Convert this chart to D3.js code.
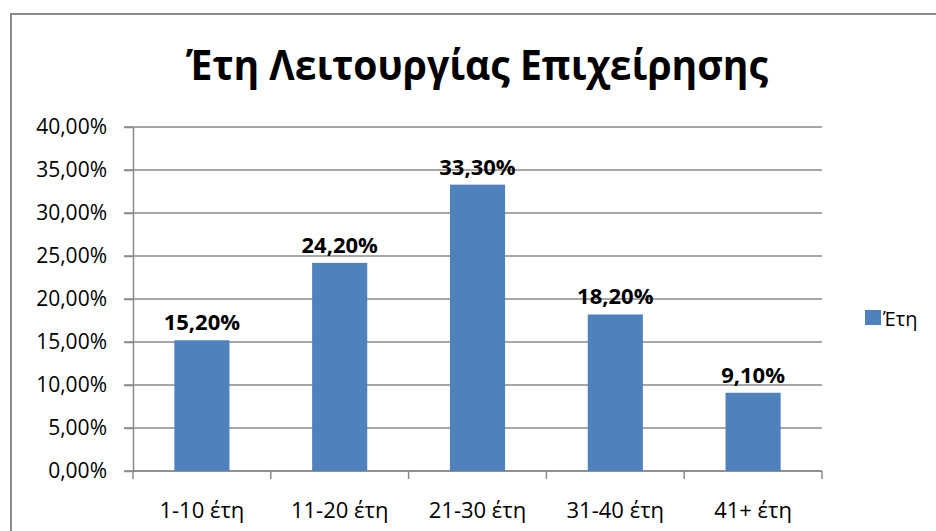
<!DOCTYPE html>
<html>
<head>
<meta charset="utf-8">
<script src="https://cdn.jsdelivr.net/npm/d3@7"></script>
<style>
  body { margin: 0; background: #fff; }
  svg { display: block; }
  text { font-family: "Open Sans", "Liberation Sans", sans-serif; fill: #000; }
</style>
</head>
<body>
<svg id="chart" width="936" height="531"></svg>
<script>
// Years of business operation, share of firms per bracket
const categories = ["1-10 έτη", "11-20 έτη", "21-30 έτη", "31-40 έτη", "41+ έτη"];
const values = [15.2, 24.2, 33.3, 18.2, 9.1];
const yTicks = [0, 5, 10, 15, 20, 25, 30, 35, 40];
const seriesName = "Έτη";
const title = "Έτη Λειτουργίας Επιχείρησης";

const svg = d3.select("#chart");
const fmt = v => v.toFixed(2).replace(".", ",") + "%";
const axisColor = "#8a8a8a";

// Chart frame
svg.append("rect")
  .attr("x", 11).attr("y", 14)
  .attr("width", 1000).attr("height", 600)
  .attr("fill", "#fff").attr("stroke", "#8c8c8c").attr("stroke-width", 2);

const plot = { left: 133, right: 822, top: 127, bottom: 471 };

const x = d3.scaleBand().domain(categories)
  .range([plot.left, plot.right]).paddingInner(0.6).paddingOuter(0.3);
const y = d3.scaleLinear().domain([0, 40]).range([plot.bottom, plot.top]);

// Title
svg.append("text")
  .attr("x", 477).attr("y", 80)
  .attr("text-anchor", "middle")
  .attr("font-size", 42).attr("font-weight", "bold")
  .attr("textLength", 582).attr("lengthAdjust", "spacingAndGlyphs")
  .text(title);

// Horizontal gridlines
svg.append("g").selectAll("line").data(yTicks).join("line")
  .attr("x1", plot.left - 9).attr("x2", plot.right)
  .attr("y1", d => y(d)).attr("y2", d => y(d))
  .attr("stroke", axisColor).attr("stroke-width", 1.5);

// Y axis
const yAxis = svg.append("g")
  .attr("transform", `translate(${plot.left},0)`)
  .call(d3.axisLeft(y).tickValues(yTicks).tickFormat(fmt).tickSize(9).tickSizeOuter(0));
yAxis.select(".domain").attr("stroke", axisColor).attr("stroke-width", 1.5);
yAxis.selectAll(".tick line").attr("stroke", axisColor).attr("stroke-width", 1.5);
yAxis.selectAll(".tick text")
  .attr("x", -26).attr("font-size", 21)
  .attr("font-family", "'Open Sans', 'Liberation Sans', sans-serif")
  .attr("fill", "#000");

// X axis with ticks at category boundaries
const boundaries = d3.range(categories.length + 1)
  .map(i => plot.left + i * (plot.right - plot.left) / categories.length);
svg.append("line")
  .attr("x1", plot.left).attr("x2", plot.right)
  .attr("y1", plot.bottom).attr("y2", plot.bottom)
  .attr("stroke", axisColor).attr("stroke-width", 1.5);
svg.append("g").selectAll("line").data(boundaries).join("line")
  .attr("x1", d => d).attr("x2", d => d)
  .attr("y1", plot.bottom).attr("y2", plot.bottom + 8)
  .attr("stroke", axisColor).attr("stroke-width", 1.5);
svg.append("g").selectAll("text").data(categories).join("text")
  .attr("x", d => x(d) + x.bandwidth() / 2)
  .attr("y", 518)
  .attr("text-anchor", "middle")
  .attr("font-size", 22)
  .text(d => d);

// Bars
const data = categories.map((c, i) => ({ c, v: values[i] }));
svg.append("g").selectAll("rect").data(data).join("rect")
  .attr("x", d => x(d.c))
  .attr("y", d => y(d.v))
  .attr("width", x.bandwidth())
  .attr("height", d => y(0) - y(d.v))
  .attr("fill", "#4f81bd");

// Value labels
svg.append("g").selectAll("text").data(data).join("text")
  .attr("x", d => x(d.c) + x.bandwidth() / 2)
  .attr("y", d => y(d.v) - 10)
  .attr("text-anchor", "middle")
  .attr("font-size", 22).attr("font-weight", "bold")
  .text(d => fmt(d.v));

// Legend
svg.append("rect")
  .attr("x", 865).attr("y", 310).attr("width", 16).attr("height", 15)
  .attr("fill", "#4f81bd");
svg.append("text")
  .attr("x", 883).attr("y", 326)
  .attr("font-size", 20)
  .text(seriesName);
</script>
</body>
</html>
